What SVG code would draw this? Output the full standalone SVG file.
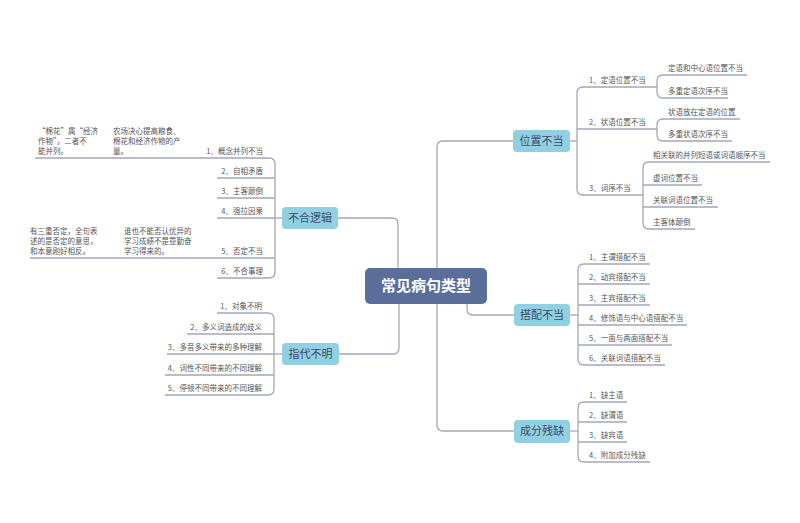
<svg xmlns="http://www.w3.org/2000/svg" width="800" height="523" viewBox="0 0 800 523">
<style>
.c{fill:none;stroke:#a3a8b8;stroke-width:1.3;stroke-linejoin:round}
text{font-family:"Noto Sans CJK SC","Liberation Sans",sans-serif;font-size:7.5px;fill:#555}
.r{text-anchor:end}
.n{fill:#8fd0e3}
.nt{font-size:11px;fill:#3d4a66;text-anchor:middle}
</style>
<rect width="800" height="523" fill="#fff"/>
<g id="connectors" class="c">
<path d="M437 268V147q0-6 6-6H513"/>
<path d="M467 304V309q0 6 6 6H514"/>
<path d="M437 304V425q0 6 6 6H514"/>
<path d="M338 218H392q6 0 6 6V268"/>
<path d="M339 354H393q6 0 6-6V304"/>
<!-- 位置不当 -->
<path d="M570 141H577"/>
<path d="M657 87H583q-6 0-6 6V189q0 6 6 6H643"/>
<path d="M577 129H657"/>
<path d="M747 75H663q-6 0-6 6V92q0 6 6 6H728"/>
<path d="M740 119H663q-6 0-6 6V135q0 6 6 6H732"/>
<path d="M770 162H649q-6 0-6 6V223q0 6 6 6H695"/>
<path d="M643 185H702M643 207H718"/>
<!-- 搭配不当 -->
<path d="M570 315H578"/>
<path d="M650 264H584q-6 0-6 6V359q0 6 6 6H665"/>
<path d="M578 284H650M578 305H650M578 325H687M578 345H672"/>
<!-- 成分残缺 -->
<path d="M570 431H578"/>
<path d="M627 402H584q-6 0-6 6V456q0 6 6 6H650"/>
<path d="M578 422H627M578 442H627"/>
<!-- 不合逻辑 -->
<path d="M282 218H275"/>
<path d="M35 158H269q6 0 6 6V272q0 6-6 6H217"/>
<path d="M217 178H275M217 198H275M217 218H275M30 258H275"/>
<!-- 指代不明 -->
<path d="M282 354H274"/>
<path d="M217 313H268q6 0 6 6V389q0 6-6 6H165"/>
<path d="M187 334H274M167 354H274M165 375H274"/>
</g>
<g id="center"><rect x="365" y="268" width="122" height="36" rx="5" fill="#5b6e9a"/><text x="426" y="291" style="font-size:15px;font-weight:bold;fill:#fff;text-anchor:middle">常见病句类型</text></g>
<g id="n1"><rect class="n" x="513" y="130" width="57" height="22" rx="4"/><text class="nt" x="541.5" y="145">位置不当</text></g>
<g id="n2"><rect class="n" x="514" y="304" width="56" height="22" rx="4"/><text class="nt" x="542" y="319">搭配不当</text></g>
<g id="n3"><rect class="n" x="514" y="420" width="56" height="23" rx="4"/><text class="nt" x="542" y="435">成分残缺</text></g>
<g id="n4"><rect class="n" x="282" y="207" width="56" height="22" rx="4"/><text class="nt" x="310" y="222">不合逻辑</text></g>
<g id="n5"><rect class="n" x="282" y="343" width="57" height="22" rx="4"/><text class="nt" x="310.5" y="358">指代不明</text></g>
<g id="n1-items">
<text x="589" y="83">1、定语位置不当</text>
<text x="668" y="71">定语和中心语位置不当</text>
<text x="668" y="94">多重定语次序不当</text>
<text x="589" y="125">2、状语位置不当</text>
<text x="668" y="115">状语放在定语的位置</text>
<text x="668" y="137">多重状语次序不当</text>
<text x="589" y="191">3、词序不当</text>
<text x="653" y="158">相关联的并列短语或词语顺序不当</text>
<text x="653" y="181">虚词位置不当</text>
<text x="653" y="203">关联词语位置不当</text>
<text x="653" y="225">主客体颠倒</text>
</g>
<g id="n2-items">
<text x="589" y="260">1、主谓搭配不当</text>
<text x="589" y="280">2、动宾搭配不当</text>
<text x="589" y="301">3、主宾搭配不当</text>
<text x="589" y="321">4、修饰语与中心语搭配不当</text>
<text x="589" y="341">5、一面与两面搭配不当</text>
<text x="589" y="361">6、关联词语搭配不当</text>
</g>
<g id="n3-items">
<text x="589" y="398">1、缺主语</text>
<text x="589" y="418">2、缺谓语</text>
<text x="589" y="438">3、缺宾语</text>
<text x="589" y="458">4、附加成分残缺</text>
</g>
<g id="n4-items">
<text class="r" x="263" y="154">1、概念并列不当</text>
<text class="r" x="263" y="174">2、自相矛盾</text>
<text class="r" x="263" y="194">3、主客颠倒</text>
<text class="r" x="263" y="214">4、强拉因果</text>
<text class="r" x="263" y="254">5、否定不当</text>
<text class="r" x="263" y="274">6、不合事理</text>
<text x="38" y="134">“棉花”属“经济</text>
<text x="38" y="144">作物”，二者不</text>
<text x="38" y="154">能并列。</text>
<text x="113" y="134">农场决心提高粮食、</text>
<text x="113" y="144">棉花和经济作物的产</text>
<text x="113" y="154">量。</text>
<text x="30" y="234">有三重否定，全句表</text>
<text x="30" y="244">述的是否定的意思，</text>
<text x="30" y="254">和本意刚好相反。</text>
<text x="124" y="234">谁也不能否认优异的</text>
<text x="124" y="244">学习成绩不是靠勤奋</text>
<text x="124" y="254">学习得来的。</text>
</g>
<g id="n5-items">
<text class="r" x="262" y="309">1、对象不明</text>
<text class="r" x="262" y="330">2、多义词造成的歧义</text>
<text class="r" x="262" y="350">3、多音多义带来的多种理解</text>
<text class="r" x="262" y="371">4、词性不同带来的不同理解</text>
<text class="r" x="262" y="391">5、停顿不同带来的不同理解</text>
</g>
</svg>
